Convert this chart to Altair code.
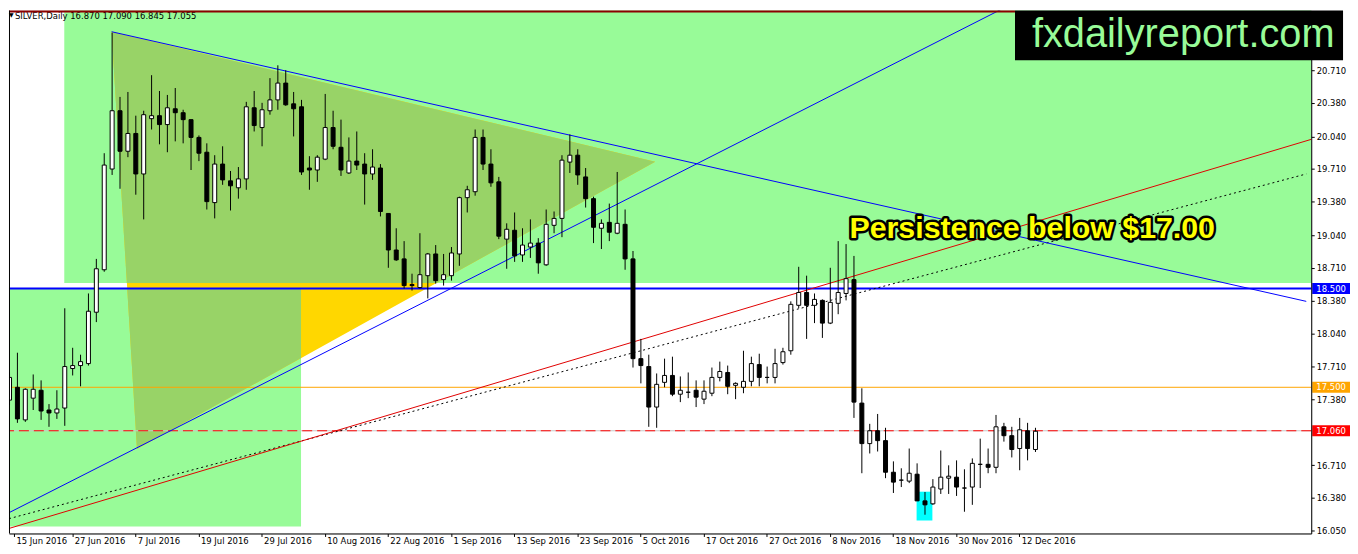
import json
import altair as alt
import pandas as pd

# ---------------- data ----------------
date_labels = ["15 Jun 2016", "27 Jun 2016", "7 Jul 2016", "19 Jul 2016",
               "29 Jul 2016", "10 Aug 2016", "22 Aug 2016", "1 Sep 2016",
               "13 Sep 2016", "23 Sep 2016", "5 Oct 2016", "17 Oct 2016",
               "27 Oct 2016", "8 Nov 2016", "18 Nov 2016", "30 Nov 2016",
               "12 Dec 2016"]
label_bars = [0, 8, 16, 24, 32, 40, 48, 56, 64, 72, 80, 88, 96, 104, 112, 120, 128]

opens = [17.37, 17.50, 17.17, 17.39, 17.47, 17.27, 17.24, 17.29, 17.69, 17.72,
         17.74, 18.26, 18.69, 19.71, 20.30, 19.89, 20.07, 19.66, 20.22, 20.25,
         20.16, 20.32, 20.28, 20.21, 20.03, 19.88, 19.37, 19.76, 19.59, 19.52,
         19.61, 20.33, 20.13, 20.30, 20.41, 20.58, 20.37, 20.34, 19.72, 19.70,
         19.81, 20.13, 19.93, 19.67, 19.79, 19.76, 19.66, 19.72, 19.26, 18.89,
         18.80, 18.54, 18.51, 18.63, 18.85, 18.59, 18.63, 18.85, 19.42, 19.48,
         20.03, 19.76, 19.58, 19.00, 19.09, 18.84, 18.92, 18.96, 18.74, 19.14,
         19.21, 19.78, 19.85, 19.63, 19.41, 19.11, 19.17, 19.06, 19.15, 18.80,
         17.79, 17.71, 17.30, 17.55, 17.62, 17.43, 17.45, 17.47, 17.38, 17.44,
         17.60, 17.65, 17.52, 17.50, 17.56, 17.73, 17.60, 17.60, 17.75, 17.87,
         18.33, 18.46, 18.33, 18.38, 18.15, 18.35, 18.45, 18.59, 17.34, 16.93,
         17.06, 16.96, 16.64, 16.56, 16.55, 16.62, 16.35, 16.32, 16.47, 16.58,
         16.59, 16.48, 16.49, 16.72, 16.72, 16.69, 17.10, 17.01, 16.88, 17.06,
         16.870]
highs = [17.65, 17.85, 17.49, 17.63, 17.57, 17.33, 17.47, 18.30, 17.90, 17.83,
         18.45, 18.80, 19.87, 21.09, 20.44, 20.49, 20.25, 20.30, 20.66, 20.50,
         20.46, 20.53, 20.31, 20.21, 20.05, 19.97, 19.85, 19.94, 19.69, 19.73,
         20.39, 20.50, 20.38, 20.63, 20.76, 20.71, 20.49, 20.41, 19.84, 19.85,
         20.47, 20.30, 20.21, 20.03, 20.09, 19.87, 19.91, 19.76, 19.26, 19.11,
         18.98, 18.65, 19.06, 18.86, 18.94, 18.85, 18.92, 19.43, 19.54, 20.11,
         20.11, 19.91, 19.63, 19.16, 19.27, 19.11, 19.20, 19.01, 19.30, 19.28,
         19.85, 20.06, 19.91, 19.72, 19.43, 19.20, 19.36, 19.68, 19.30, 18.88,
         17.99, 17.83, 17.64, 17.79, 17.81, 17.61, 17.65, 17.57, 17.57, 17.70,
         17.76, 17.72, 17.55, 17.87, 17.81, 17.84, 17.71, 17.89, 17.90, 18.37,
         18.72, 18.63, 18.45, 18.39, 18.71, 18.98, 18.95, 18.83, 17.49, 17.13,
         17.23, 17.09, 16.75, 16.68, 16.88, 16.73, 16.44, 16.57, 16.86, 16.71,
         16.76, 16.67, 16.78, 16.98, 16.88, 17.22, 17.14, 17.10, 17.19, 17.14,
         17.090]
lows = [17.32, 17.14, 17.15, 17.27, 17.17, 17.10, 17.18, 17.11, 17.62, 17.51,
        17.72, 18.16, 18.67, 19.65, 19.51, 19.83, 19.45, 19.20, 20.11, 19.96,
        19.88, 19.99, 19.97, 19.70, 19.79, 19.30, 19.21, 19.55, 19.29, 19.41,
        19.50, 20.09, 19.94, 20.26, 20.31, 20.35, 20.04, 19.65, 19.50, 19.58,
        19.80, 19.91, 19.64, 19.66, 19.70, 19.35, 19.60, 19.23, 18.71, 18.78,
        18.50, 18.48, 18.50, 18.40, 18.55, 18.53, 18.58, 18.73, 19.27, 19.44,
        19.70, 19.53, 19.00, 18.70, 18.77, 18.77, 18.81, 18.65, 18.73, 19.06,
        19.02, 19.67, 19.55, 19.32, 18.96, 18.90, 18.98, 19.05, 18.69, 17.70,
        17.54, 17.10, 17.09, 17.50, 17.41, 17.35, 17.39, 17.30, 17.33, 17.41,
        17.56, 17.43, 17.38, 17.44, 17.51, 17.51, 17.54, 17.54, 17.73, 17.83,
        18.30, 17.99, 18.15, 18.00, 18.14, 18.24, 18.38, 17.19, 16.63, 16.83,
        16.85, 16.58, 16.43, 16.49, 16.53, 16.35, 16.21, 16.31, 16.42, 16.42,
        16.40, 16.24, 16.31, 16.48, 16.63, 16.63, 16.95, 16.79, 16.66, 16.76,
        16.845]
closes = [17.60, 17.18, 17.48, 17.48, 17.26, 17.24, 17.28, 17.71, 17.72, 17.76,
          18.27, 18.70, 19.75, 20.30, 19.89, 20.07, 19.66, 20.26, 20.25, 20.16,
          20.33, 20.28, 20.21, 20.03, 19.87, 19.38, 19.76, 19.60, 19.54, 19.61,
          20.34, 20.15, 20.31, 20.41, 20.58, 20.36, 20.32, 19.68, 19.70, 19.83,
          20.13, 19.94, 19.70, 19.79, 19.75, 19.66, 19.73, 19.28, 18.89, 18.79,
          18.53, 18.53, 18.64, 18.85, 18.58, 18.64, 18.86, 19.42, 19.50, 20.03,
          19.76, 19.57, 19.03, 19.10, 18.83, 18.94, 18.96, 18.76, 19.15, 19.21,
          19.80, 19.85, 19.65, 19.41, 19.12, 19.16, 19.07, 19.16, 18.80, 17.79,
          17.72, 17.30, 17.53, 17.62, 17.43, 17.47, 17.45, 17.40, 17.46, 17.60,
          17.66, 17.51, 17.54, 17.56, 17.74, 17.60, 17.60, 17.74, 17.86, 18.34,
          18.46, 18.33, 18.39, 18.15, 18.36, 18.46, 18.60, 17.35, 16.93, 17.06,
          16.96, 16.64, 16.54, 16.56, 16.63, 16.35, 16.31, 16.49, 16.59, 16.60,
          16.49, 16.48, 16.73, 16.72, 16.69, 17.10, 17.01, 16.87, 17.07, 16.88,
          17.055]

price_ticks = [16.05, 16.38, 16.71, 17.38, 17.71, 18.04, 18.38, 18.71,
               19.04, 19.38, 19.71, 20.04, 20.38, 20.71]

level_prices = [18.500, 17.500, 17.060]
level_colors = ["#0000FF", "#FFA500", "#FF0000"]

# shaded zones (bar index / price)
zone_x0 = [7.0, -5.0]
zone_x1 = [170.0, 37.0]
zone_lo = [18.556, 16.09]
zone_hi = [22.0, 18.50]

# triangle object
tri_bar = [13.0, 81.875, 16.21]
tri_price = [21.10, 19.784, 16.875]

# cyan marker box
cyan_bar = [115.0, 117.0]
cyan_price = [16.151, 16.443]

# trend lines (two anchor points each)
blue_desc_bar, blue_desc_price = [13.0, 164.375], [21.10, 18.37]
blue_asc_bar, blue_asc_price = [-1.0, 130.0], [16.19, 21.50]
red_bar, red_price = [-1.0, 165.0], [16.047, 20.01]
dot_bar, dot_price = [0.0, 164.375], [16.17, 19.66]

note_bar, note_price = 106.5, 19.009
note_text = "Persistence below $17.00"

# ---------------- chart setup ----------------
W, H = 1310, 526
X_DOM = [0.625, 164.375]
Y_DOM = [16.02, 21.314]
AXF = "DejaVu Sans"

x_tick_vals = [X_DOM[0]] + label_bars[1:]
label_expr = f"{json.dumps(date_labels)}[indexof({json.dumps(x_tick_vals)}, datum.value)]"

xs = alt.Scale(domain=X_DOM, nice=False, zero=False)
ys = alt.Scale(domain=Y_DOM, nice=False, zero=False)
x_axis = alt.Axis(values=x_tick_vals, labelExpr=label_expr, title=None, grid=False,
                  orient="bottom", tickSize=3, labelPadding=0, labelAlign="left",
                  labelBaseline="top", labelOffset=2, labelFlush=False,
                  labelOverlap=False, labelFont=AXF, labelFontSize=8.5,
                  labelColor="black", domainColor="black", tickColor="black", zindex=1)
y_axis = alt.Axis(values=price_ticks, format=".3f", orient="right", title=None,
                  grid=False, tickSize=3, labelPadding=2, labelFont=AXF,
                  labelFontSize=8.5, labelColor="black", domainColor="black",
                  tickColor="black", labelOverlap=False, zindex=1)


def X(f):
    return alt.X(f, type="quantitative", scale=xs, axis=x_axis)


def Y(f):
    return alt.Y(f, type="quantitative", scale=ys, axis=y_axis)


candles = pd.DataFrame({"idx": list(range(len(opens))), "open": opens,
                        "high": highs, "low": lows, "close": closes})

zones = pd.DataFrame({"x0": zone_x0, "x1": zone_x1, "lo": zone_lo, "hi": zone_hi})

A = (tri_bar[0], tri_price[0])
B = (tri_bar[1], tri_price[1])
C = (tri_bar[2], tri_price[2])


def y_on(p, q, x):
    return p[1] + (q[1] - p[1]) * (x - p[0]) / (q[0] - p[0])


def x_on(p, q, y):
    return p[0] + (q[0] - p[0]) * (y - p[1]) / (q[1] - p[1])


gold_df = pd.DataFrame({"x": [A[0], C[0], B[0]],
                        "top": [A[1], y_on(A, B, C[0]), B[1]],
                        "bottom": [A[1], C[1], B[1]]})
up_lo, lo_hi, lo_x1 = zone_lo[0], zone_hi[1], zone_x1[1]
xa, xb = x_on(A, C, up_lo), x_on(C, B, up_lo)
up_x = [A[0], xa, xb, B[0]]
xa2 = x_on(A, C, lo_hi)
lo_x = [xa2, C[0], lo_x1]
olive_df = pd.DataFrame({
    "piece": ["u"] * 4 + ["l"] * 3,
    "x": up_x + lo_x,
    "top": [y_on(A, B, v) for v in up_x] + [lo_hi] * 3,
    "bottom": [A[1], up_lo, up_lo, B[1]] + [lo_hi, C[1], y_on(C, B, lo_x1)],
})

cyan_df = pd.DataFrame({"x0": [cyan_bar[0]], "x1": [cyan_bar[1]],
                        "lo": [cyan_price[0]], "hi": [cyan_price[1]]})

bg = alt.Chart(zones).mark_rect(color="#98FB98", clip=True).encode(
    x=X("x0"), x2=alt.X2("x1"), y=Y("lo"), y2=alt.Y2("hi"))
gold = alt.Chart(gold_df).mark_area(color="#FFD700", clip=True, opacity=1).encode(
    x=X("x"), y=Y("top"), y2=alt.Y2("bottom"))
olive = alt.Chart(olive_df).mark_area(color="#98D367", clip=True, opacity=1).encode(
    x=X("x"), y=Y("top"), y2=alt.Y2("bottom"), detail="piece:N")
cyan = alt.Chart(cyan_df).mark_rect(color="#00FFFF", clip=True).encode(
    x=X("x0"), x2=alt.X2("x1"), y=Y("lo"), y2=alt.Y2("hi"))

lv = pd.DataFrame({"p": level_prices})
grey17 = alt.Chart(lv.iloc[[2]]).mark_rule(color="#C8C8C8", strokeWidth=1).encode(y=Y("p"))
red17 = alt.Chart(lv.iloc[[2]]).mark_rule(color="#FF0000", strokeWidth=1,
                                          strokeDash=[10, 5]).encode(y=Y("p"))
orange = alt.Chart(lv.iloc[[1]]).mark_rule(color="#FFA500", strokeWidth=1).encode(y=Y("p"))
blue = alt.Chart(lv.iloc[[0]]).mark_rule(color="#0000FF", strokeWidth=2).encode(y=Y("p"))


def tline(bars, prices, color, dash=None):
    df = pd.DataFrame({"bar": bars, "price": prices})
    kw = dict(color=color, strokeWidth=1, clip=True)
    if dash:
        kw["strokeDash"] = dash
    return alt.Chart(df).mark_line(**kw).encode(x=X("bar"), y=Y("price"))


l_dot = tline(dot_bar, dot_price, "#000000", [2, 3])
l_red = tline(red_bar, red_price, "#E00000")
l_basc = tline(blue_asc_bar, blue_asc_price, "#0000FF")
l_bdesc = tline(blue_desc_bar, blue_desc_price, "#0000FF")

wick = alt.Chart(candles).mark_rule(color="black", strokeWidth=1, xOffset=0.5, clip=True).encode(
    x=X("idx"), y=Y("low"), y2=alt.Y2("high"))
body = alt.Chart(candles).mark_bar(width=4, stroke="black", strokeWidth=1, xOffset=0.5,
                                   clip=True).encode(
    x=X("idx"), y=Y("open"), y2=alt.Y2("close"),
    fill=alt.when(alt.datum.close > alt.datum.open).then(alt.value("white")).otherwise(alt.value("black")))

note_df = pd.DataFrame({"bar": [note_bar], "price": [note_price], "t": [note_text]})
note_out = alt.Chart(note_df).mark_text(font="Liberation Sans", fontSize=30.5, fontWeight="bold",
                                        align="left", baseline="alphabetic", color="black",
                                        stroke="black", strokeWidth=5, strokeJoin="round").encode(
    x=X("bar"), y=Y("price"), text="t:N")
note_in = alt.Chart(note_df).mark_text(font="Liberation Sans", fontSize=30.5, fontWeight="bold",
                                       align="left", baseline="alphabetic", color="#FFFF00").encode(
    x=X("bar"), y=Y("price"), text="t:N")

box_df = pd.DataFrame({"price": level_prices, "col": level_colors,
                       "lab": [f"{v:.3f}" for v in level_prices]})
boxes = alt.Chart(box_df).mark_tick(thickness=11, size=38, opacity=1).encode(
    x=alt.value(1330), y=Y("price"), color=alt.Color("col:N", scale=None))
box_txt = alt.Chart(box_df).mark_text(color="white", font=AXF, fontSize=8.5, align="center",
                                      baseline="middle").encode(
    x=alt.value(1330), y=Y("price"), text="lab:N")

legend_str = f"SILVER,Daily  {opens[-1]:.3f} {highs[-1]:.3f} {lows[-1]:.3f} {closes[-1]:.3f}"
leg_tri = alt.Chart(pd.DataFrame({"t": ["\u25bc"]})).mark_text(
    font=AXF, fontSize=6, align="left", baseline="middle", color="black").encode(
    x=alt.value(0), y=alt.value(4.5), text="t:N")
leg_txt = alt.Chart(pd.DataFrame({"t": [legend_str]})).mark_text(
    font=AXF, fontSize=8.5, align="left", baseline="alphabetic", color="black").encode(
    x=alt.value(6), y=alt.value(8.5), text="t:N")

logo_rect = alt.Chart(pd.DataFrame({"a": [0]})).mark_rect(color="black").encode(
    x=alt.value(1012), x2=alt.value(1342), y=alt.value(0), y2=alt.value(50))
logo_txt = alt.Chart(pd.DataFrame({"t": ["fxdailyreport.com"]})).mark_text(
    font="Liberation Sans", fontSize=40, align="left", baseline="alphabetic",
    color="#98FB98").encode(x=alt.value(1029), y=alt.value(37), text="t:N")

top_rule = alt.Chart(pd.DataFrame({"a": [0]})).mark_rule(color="#8B0000", strokeWidth=2).encode(
    x=alt.value(0), x2=alt.value(1012), y=alt.value(1))
left_rule = alt.Chart(pd.DataFrame({"a": [0]})).mark_rule(color="black", strokeWidth=1).encode(
    x=alt.value(0.5), y=alt.value(0), y2=alt.value(H))

chart = alt.layer(
    bg, gold, olive, cyan,
    grey17, red17, orange, blue,
    l_dot, l_red, l_basc, l_bdesc,
    wick, body,
    note_out, note_in,
    boxes, box_txt, leg_tri, leg_txt,
    logo_rect, logo_txt, top_rule, left_rule,
).properties(width=W, height=H, padding=0).configure_view(stroke=None).configure(background="white")

chart.save("out.html", embed_options={"renderer": "svg", "actions": False})
